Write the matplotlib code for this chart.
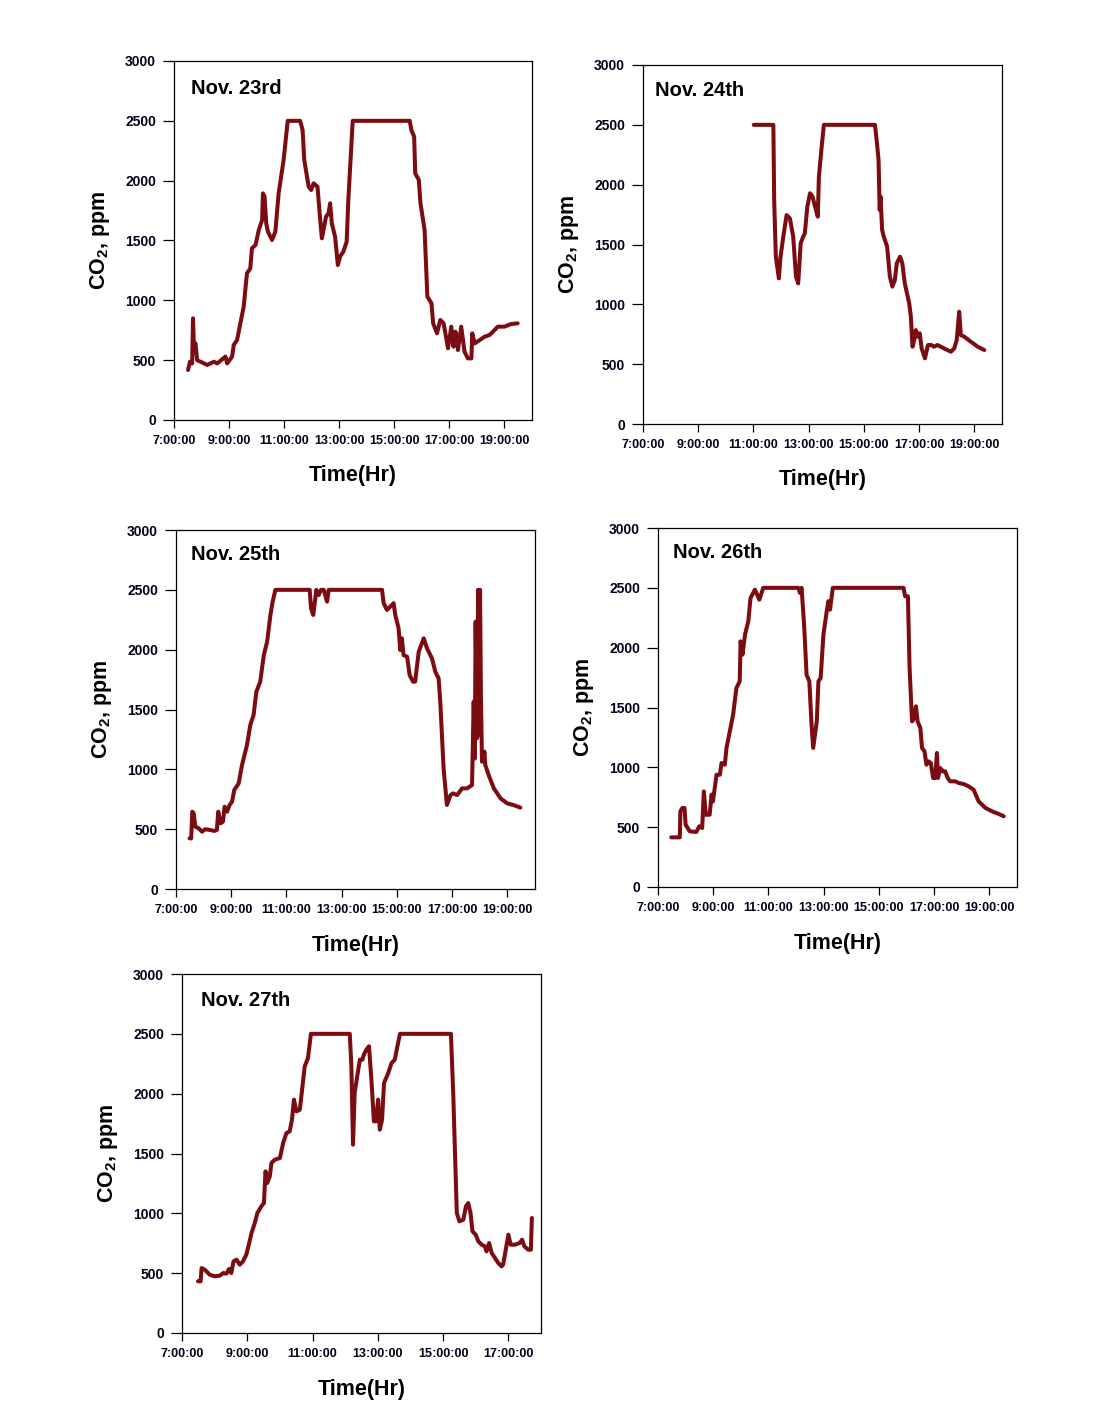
import matplotlib
matplotlib.use("Agg")
import matplotlib.pyplot as plt

plt.rcParams["font.family"] = ["Liberation Sans", "DejaVu Sans"]
plt.rcParams["font.weight"] = "bold"
plt.rcParams["mathtext.fontset"] = "custom"
plt.rcParams["mathtext.rm"] = "Liberation Sans:bold"
plt.rcParams["mathtext.bf"] = "Liberation Sans:bold"

# hours of day, CO2 ppm
t_23 = [7.51, 7.58, 7.66, 7.69, 7.72, 7.78, 7.84, 8.09, 8.21, 8.45, 8.57, 8.87, 8.93,
        9.11, 9.17, 9.29, 9.41, 9.53, 9.65, 9.77, 9.83, 9.96, 10.08, 10.2, 10.23, 10.29,
        10.35, 10.41, 10.56, 10.68, 10.8, 10.98, 11.13, 11.58, 11.67, 11.73, 11.89, 11.98,
        12.07, 12.21, 12.31, 12.37, 12.52, 12.61, 12.67, 12.73, 12.85, 12.95, 13.03, 13.15,
        13.27, 13.33, 13.49, 15.56, 15.62, 15.72, 15.76, 15.89, 15.95, 16.1, 16.2, 16.35,
        16.41, 16.55, 16.67, 16.79, 16.95, 17.07, 17.15, 17.22, 17.31, 17.43, 17.55, 17.67,
        17.8, 17.83, 17.92, 18.1, 18.28, 18.46, 18.76, 19.0, 19.24, 19.48]
co2_23 = [418, 487, 473, 850, 640, 640, 500, 473, 460, 487, 473, 530, 473,
          530, 627, 668, 808, 947, 1226, 1267, 1435, 1462, 1588, 1671, 1894, 1866,
          1643, 1574, 1504, 1574, 1894, 2173, 2500, 2500, 2423, 2173, 1950, 1922,
          1978, 1950, 1671, 1518, 1699, 1727, 1811, 1643, 1532, 1295, 1365, 1407,
          1490, 1838, 2500, 2500, 2423, 2368, 2061, 2006, 1811, 1588, 1031, 975,
          808, 724, 836, 808, 599, 780, 613, 738, 585, 780, 571, 515,
          515, 724, 640, 668, 696, 710, 780, 780, 802, 808]

t_24 = [11.01, 11.72, 11.75, 11.81, 11.92, 11.98, 12.08, 12.2, 12.32, 12.44, 12.54, 12.62,
        12.71, 12.8, 12.86, 12.95, 13.05, 13.14, 13.23, 13.33, 13.37, 13.47, 13.55, 15.4,
        15.46, 15.53, 15.57, 15.6, 15.66, 15.72, 15.84, 15.94, 16.03, 16.12, 16.19, 16.31,
        16.39, 16.48, 16.64, 16.7, 16.76, 16.82, 16.88, 16.94, 17.02, 17.09, 17.21, 17.32,
        17.44, 17.54, 17.66, 17.9, 18.15, 18.27, 18.36, 18.45, 18.51, 18.63, 18.87, 19.12,
        19.36]
co2_24 = [2500, 2500, 1872, 1398, 1217, 1398, 1565, 1746, 1718, 1565, 1231, 1175,
          1510, 1565, 1593, 1816, 1928, 1900, 1816, 1733, 2067, 2318, 2500, 2500,
          2374, 2207, 1789, 1900, 1621, 1565, 1482, 1231, 1148, 1203, 1343, 1398,
          1343, 1175, 1008, 897, 646, 702, 785, 730, 758, 632, 549, 660,
          660, 646, 660, 632, 604, 632, 702, 938, 743, 730, 688, 646,
          618]

t_25 = [7.49, 7.55, 7.59, 7.64, 7.7, 7.82, 7.94, 8.06, 8.24, 8.39, 8.48, 8.53, 8.61,
        8.7, 8.76, 8.85, 8.94, 9.03, 9.11, 9.27, 9.39, 9.57, 9.69, 9.81, 9.91, 10.05,
        10.18, 10.3, 10.42, 10.5, 10.6, 11.84, 11.89, 11.97, 12.03, 12.08, 12.17, 12.25,
        12.35, 12.47, 12.53, 14.46, 14.52, 14.64, 14.76, 14.88, 14.94, 15.06, 15.12, 15.18,
        15.24, 15.37, 15.46, 15.58, 15.66, 15.79, 15.97, 16.09, 16.27, 16.39, 16.51, 16.57,
        16.69, 16.81, 16.94, 17.03, 17.18, 17.36, 17.54, 17.72, 17.78, 17.82, 17.85, 17.9,
        17.94, 17.97, 18.01, 18.04, 18.08, 18.17, 18.2, 18.32, 18.51, 18.75, 18.99, 19.22,
        19.47]
co2_25 = [423, 423, 646, 632, 521, 507, 479, 499, 493, 485, 493, 646, 549,
          563, 688, 646, 702, 730, 827, 883, 1036, 1203, 1370, 1454, 1649, 1733,
          1955, 2067, 2290, 2401, 2500, 2500, 2346, 2290, 2401, 2500, 2457, 2500,
          2500, 2401, 2500, 2500, 2388, 2332, 2360, 2388, 2290, 2179, 1997, 2095,
          1955, 1941, 1788, 1733, 1733, 1983, 2095, 2011, 1927, 1816, 1760, 1565,
          1008, 702, 785, 799, 785, 841, 841, 869, 1565, 1091, 2234, 1259,
          2500, 1287, 2500, 1649, 1064, 1148, 1036, 953, 841, 758, 716, 702,
          680]

t_26 = [7.48, 7.79, 7.81, 7.88, 7.96, 8.0, 8.15, 8.39, 8.49, 8.6, 8.66, 8.73, 8.87,
        8.94, 8.99, 9.12, 9.24, 9.3, 9.42, 9.48, 9.6, 9.72, 9.84, 9.96, 9.99, 10.06,
        10.15, 10.27, 10.35, 10.51, 10.67, 10.81, 12.08, 12.14, 12.2, 12.29, 12.38, 12.48,
        12.56, 12.62, 12.75, 12.81, 12.89, 12.99, 13.11, 13.17, 13.23, 13.33, 15.89, 15.95,
        16.05, 16.11, 16.2, 16.28, 16.34, 16.4, 16.5, 16.56, 16.65, 16.72, 16.8, 16.88,
        16.96, 17.04, 17.1, 17.14, 17.22, 17.32, 17.4, 17.49, 17.58, 17.77, 17.89, 18.07,
        18.25, 18.43, 18.61, 18.86, 19.1, 19.34, 19.52]
co2_26 = [415, 415, 632, 660, 660, 521, 465, 460, 507, 493, 799, 604, 604,
          772, 716, 938, 938, 1036, 1022, 1162, 1301, 1440, 1663, 1719, 2053, 1942,
          2109, 2220, 2415, 2485, 2401, 2500, 2500, 2457, 2500, 2192, 1774, 1719,
          1357, 1162, 1384, 1719, 1747, 2109, 2304, 2388, 2318, 2500, 2500, 2429,
          2429, 1830, 1384, 1412, 1510, 1384, 1329, 1162, 1134, 1022, 1050, 1036,
          911, 911, 1120, 911, 994, 966, 966, 911, 883, 883, 869, 860,
          841, 813, 716, 660, 632, 610, 591]

t_27 = [7.49, 7.57, 7.6, 7.7, 7.85, 8.0, 8.16, 8.26, 8.36, 8.44, 8.51, 8.58, 8.67,
        8.77, 8.87, 8.97, 9.06, 9.13, 9.23, 9.31, 9.43, 9.51, 9.56, 9.61, 9.69, 9.74,
        9.84, 10.0, 10.1, 10.2, 10.3, 10.37, 10.43, 10.51, 10.61, 10.68, 10.76, 10.86,
        10.95, 12.14, 12.19, 12.24, 12.29, 12.4, 12.45, 12.53, 12.57, 12.65, 12.73, 12.81,
        12.88, 12.94, 13.01, 13.06, 13.13, 13.19, 13.32, 13.42, 13.52, 13.6, 13.68, 15.24,
        15.31, 15.42, 15.5, 15.62, 15.7, 15.77, 15.84, 15.9, 16.0, 16.08, 16.18, 16.28,
        16.33, 16.41, 16.49, 16.59, 16.69, 16.79, 16.84, 16.92, 17.0, 17.07, 17.2, 17.35,
        17.42, 17.49, 17.61, 17.69, 17.72]
co2_27 = [432, 432, 543, 529, 487, 474, 479, 501, 496, 535, 501, 599, 613,
          571, 599, 655, 752, 836, 919, 1003, 1058, 1086, 1351, 1253, 1309, 1420,
          1448, 1462, 1588, 1671, 1685, 1783, 1950, 1852, 1866, 2033, 2228, 2298,
          2500, 2500, 2228, 1574, 2006, 2200, 2284, 2284, 2326, 2368, 2396, 2089,
          1769, 1769, 1950, 1699, 1783, 2089, 2173, 2256, 2284, 2396, 2500, 2500,
          2006, 1003, 933, 947, 1058, 1086, 1003, 850, 822, 766, 738, 724,
          682, 752, 668, 627, 585, 557, 571, 696, 822, 738, 738, 752,
          780, 724, 696, 696, 961]

days = ["Nov. 23rd", "Nov. 24th", "Nov. 25th", "Nov. 26th", "Nov. 27th"]
times = [t_23, t_24, t_25, t_26, t_27]
values = [co2_23, co2_24, co2_25, co2_26, co2_27]
x_end = [20, 20, 20, 20, 18]

W, H = 1104, 1413
# axes boxes in pixels: left, top, right, bottom
boxes = [(174, 61, 532, 420), (643, 65, 1002, 424), (176, 530, 535, 889),
         (658, 528, 1017, 887), (182, 974, 541, 1333)]
title_off = [(17, 27), (12, 25), (15, 24), (15, 25), (19, 27)]

line_color = "#7b0c12"
tick_color = "#000018"

fig = plt.figure(figsize=(W / 100, H / 100), dpi=100)

for i in range(5):
    l, t, r, b = boxes[i]
    ax = fig.add_axes([l / W, 1 - b / H, (r - l) / W, (b - t) / H])
    ax.plot(times[i], values[i], color=line_color, lw=2.9,
            solid_joinstyle="round", solid_capstyle="round")
    ax.set_xlim(7, x_end[i])
    ax.set_ylim(0, 3000)
    hrs = list(range(7, x_end[i], 2))
    ax.set_xticks(hrs)
    ax.set_xticklabels([f"{h}:00:00" for h in hrs])
    ax.set_yticks([0, 500, 1000, 1500, 2000, 2500, 3000])
    for s in ax.spines.values():
        s.set_linewidth(0.9)
    ax.tick_params(axis="y", direction="out", length=8, width=0.9, pad=5,
                   labelsize=10, labelcolor=tick_color)
    ax.tick_params(axis="x", direction="out", length=6, width=0.9, pad=5,
                   labelsize=9, labelcolor=tick_color)
    for lab in ax.get_xticklabels() + ax.get_yticklabels():
        lab.set_fontweight("bold")
    ax.set_xlabel("Time(Hr)", fontsize=15.5, fontweight="bold", va="center")
    ax.xaxis.set_label_coords(0.5, -56 / (b - t))
    ax.set_ylabel(r"CO$_{\mathbf{2}}$, ppm", fontsize=15.5, fontweight="bold", va="center")
    ax.yaxis.set_label_coords(-74 / (r - l), 0.5)
    dx, dy = title_off[i]
    ax.text(dx / (r - l), 1 - dy / (b - t), days[i], transform=ax.transAxes,
            fontsize=14.5, fontweight="bold", ha="left", va="center")

fig.savefig("out.png", dpi=100)
